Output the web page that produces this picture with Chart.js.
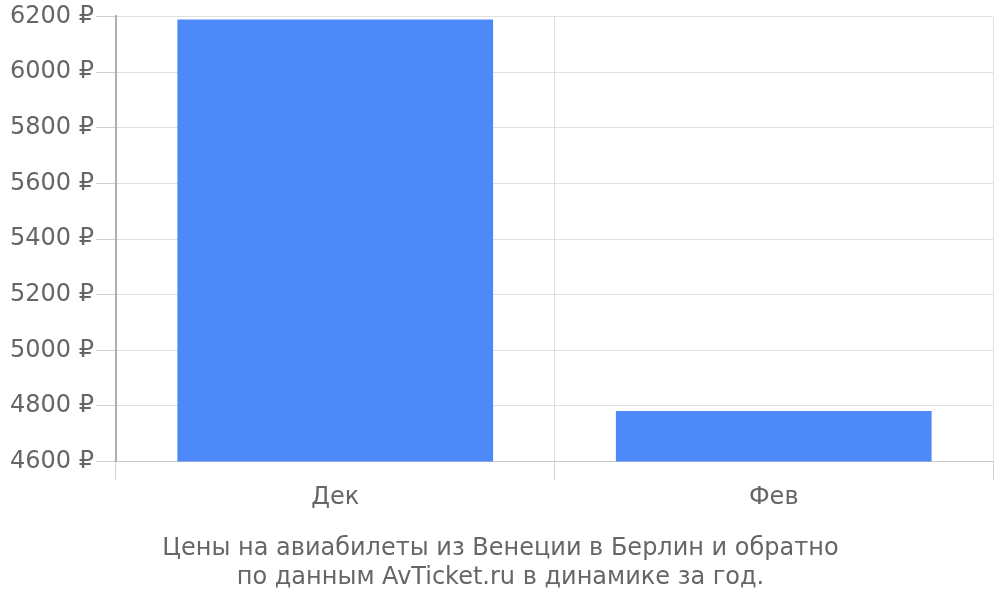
<!DOCTYPE html>
<html>
<head>
<meta charset="utf-8">
<script src="https://cdn.jsdelivr.net/npm/chart.js@4"></script>
<style>
  html, body { margin: 0; padding: 0; background: #fff; }
  #wrap { width: 1000px; height: 600px; }
</style>
</head>
<body>
<div id="wrap"><canvas id="chart"></canvas></div>
<script>
var months = ['Дек', 'Фев'];
var prices = [6189, 4782];
var titleLines = [
    'Цены на авиабилеты из Венеции в Берлин и обратно',
    'по данным AvTicket.ru в динамике за год.'
];

(function(){
    var fontFamily = '"DejaVu Sans", sans-serif';
    var textColor = '#666';

    new Chart(document.getElementById('chart'), {
        type: 'bar',
        data: {
            labels: months,
            datasets: [{
                data: prices,
                backgroundColor: '#4d89f9',
                borderWidth: 0
            }]
        },
        options: {
            responsive: true,
            maintainAspectRatio: false,
            animation: false,
            layout: { padding: { top: 11, right: 7, bottom: 8, left: 8 } },
            plugins: {
                legend: { display: false },
                tooltip: { enabled: false },
                title: {
                    display: true,
                    position: 'bottom',
                    text: titleLines,
                    color: textColor,
                    font: { family: fontFamily, size: 24, weight: 'normal', lineHeight: 1.2 },
                    padding: { top: 18, bottom: 0 }
                }
            },
            scales: {
                x: {
                    grid: { color: '#e0e0e0', tickLength: 18, tickColor: '#d0d0d0' },
                    border: { color: '#c8c8c8' },
                    ticks: {
                        color: textColor,
                        font: { family: fontFamily, size: 24 },
                        padding: 4
                    }
                },
                y: {
                    min: 4600,
                    max: 6200,
                    grid: { color: '#e0e0e0', tickLength: 20, tickColor: '#d0d0d0' },
                    border: { color: '#b0b0b0', width: 2 },
                    ticks: {
                        stepSize: 200,
                        color: textColor,
                        font: { family: fontFamily, size: 24 },
                        padding: 2,
                        callback: function(v){ return v + ' ₽'; }
                    }
                }
            }
        }
    });
})();
</script>
</body>
</html>
